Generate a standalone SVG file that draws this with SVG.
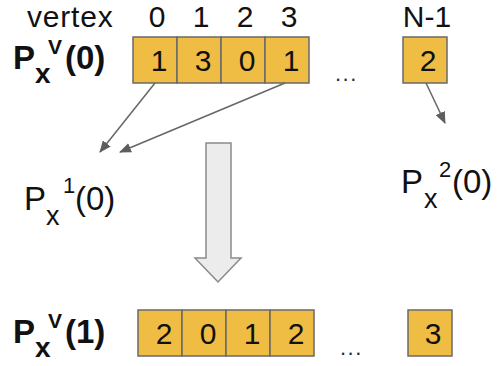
<svg xmlns="http://www.w3.org/2000/svg" width="498" height="366" viewBox="0 0 498 366">
  <style>
    .cell { fill: #efbd43; stroke: #6a6a6a; stroke-width: 1.5; }
    .num { font-family: "Liberation Sans", Arial, sans-serif; font-size: 30px; fill: #111; text-anchor: middle; }
    .lbl { font-family: "Liberation Sans", Arial, sans-serif; fill: #111; }
    .bold { font-weight: bold; }
    .dots { font-family: "Liberation Sans", Arial, sans-serif; font-size: 22px; fill: #1a2a4a; letter-spacing: 1.5px; }
    .link { stroke: #666; stroke-width: 1.5; fill: none; }
    .big { fill: #ececec; stroke: #8a8a8a; stroke-width: 1.5; }
  </style>
  <defs>
    <marker id="head" viewBox="0 0 12 10" refX="11" refY="5" markerWidth="12" markerHeight="10" markerUnits="userSpaceOnUse" orient="auto">
      <path d="M0,0 L12,5 L0,10 z" fill="#5e5e5e"/>
    </marker>
  </defs>

  <rect width="498" height="366" fill="#fff"/>

  <!-- column header -->
  <g id="header">
    <text class="lbl" x="27" y="27" font-size="30" letter-spacing="0.8">vertex</text>
    <text class="num" x="157" y="27">0</text>
    <text class="num" x="201" y="27">1</text>
    <text class="num" x="245" y="27">2</text>
    <text class="num" x="289" y="27">3</text>
    <text class="num" x="427" y="27">N-1</text>
  </g>

  <!-- row P_x^V(0) -->
  <g id="row0">
    <text class="lbl bold" y="69"><tspan x="13" font-size="33">P</tspan><tspan x="35" y="83" font-size="28">x</tspan><tspan x="48" y="54" font-size="21">V</tspan><tspan x="65" y="69" font-size="33">(0)</tspan></text>
    <rect class="cell" x="133" y="37" width="44" height="46"/>
    <rect class="cell" x="177" y="37" width="44" height="46"/>
    <rect class="cell" x="221" y="37" width="44" height="46"/>
    <rect class="cell" x="265" y="37" width="44" height="46"/>
    <text class="num" x="159" y="71">1</text>
    <text class="num" x="203" y="71">3</text>
    <text class="num" x="247" y="71">0</text>
    <text class="num" x="291" y="71">1</text>
    <text class="dots" x="335" y="81">...</text>
    <rect class="cell" x="403" y="37" width="44" height="46"/>
    <text class="num" x="428" y="71">2</text>
  </g>

  <!-- partial targets -->
  <g id="p1">
    <text class="lbl" y="210"><tspan x="24" font-size="33">P</tspan><tspan x="46" y="225" font-size="27">x</tspan><tspan x="63" y="193" font-size="22">1</tspan><tspan x="75" y="210" font-size="33">(0)</tspan></text>
  </g>
  <g id="p2">
    <text class="lbl" y="193"><tspan x="401" font-size="33">P</tspan><tspan x="424" y="208" font-size="27">x</tspan><tspan x="439" y="177" font-size="22">2</tspan><tspan x="452" y="193" font-size="33">(0)</tspan></text>
  </g>

  <!-- connectors -->
  <g id="links">
    <line class="link" x1="155" y1="83" x2="100" y2="152" marker-end="url(#head)"/>
    <line class="link" x1="285" y1="83" x2="120" y2="152" marker-end="url(#head)"/>
    <line class="link" x1="426" y1="83" x2="445" y2="123" marker-end="url(#head)"/>
  </g>

  <!-- step arrow -->
  <g id="step">
    <path class="big" d="M206,143 L231,143 L231,258 L241,258 L218,282 L195,258 L206,258 Z"/>
  </g>

  <!-- row P_x^V(1) -->
  <g id="row1">
    <text class="lbl bold" y="343"><tspan x="13" font-size="33">P</tspan><tspan x="35" y="357" font-size="28">x</tspan><tspan x="48" y="328" font-size="21">V</tspan><tspan x="65" y="343" font-size="33">(1)</tspan></text>
    <rect class="cell" x="138" y="310" width="44" height="46"/>
    <rect class="cell" x="182" y="310" width="44" height="46"/>
    <rect class="cell" x="226" y="310" width="44" height="46"/>
    <rect class="cell" x="270" y="310" width="44" height="46"/>
    <text class="num" x="164" y="344">2</text>
    <text class="num" x="208" y="344">0</text>
    <text class="num" x="252" y="344">1</text>
    <text class="num" x="296" y="344">2</text>
    <text class="dots" x="340" y="355">...</text>
    <rect class="cell" x="408" y="310" width="44" height="46"/>
    <text class="num" x="433" y="344">3</text>
  </g>
</svg>
